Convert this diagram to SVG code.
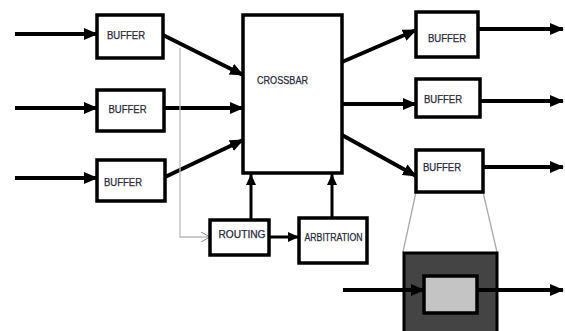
<svg xmlns="http://www.w3.org/2000/svg" width="565" height="331" viewBox="0 0 565 331">
<defs>
<marker id="ah" markerUnits="userSpaceOnUse" markerWidth="14" markerHeight="12" refX="13" refY="6" orient="auto">
<path d="M0,0 L14,6 L0,12 z" fill="#000"/>
</marker>
<marker id="ahg" markerUnits="userSpaceOnUse" markerWidth="10" markerHeight="10" refX="9" refY="5" orient="auto">
<path d="M0,0 L9,5 L0,10" fill="none" stroke="#888" stroke-width="1"/>
</marker>
<marker id="ahs" markerUnits="userSpaceOnUse" markerWidth="12" markerHeight="10" refX="11" refY="5" orient="auto">
<path d="M0,0 L11,5 L0,10 z" fill="#000"/>
</marker>
</defs>
<style>
.box{fill:#fff;stroke:#000;stroke-width:3.5}
.lbl{font-family:"Liberation Sans",Arial,sans-serif;font-size:10px;fill:#2a2a3a;text-anchor:middle;dominant-baseline:central;stroke:#2a2a3a;stroke-width:0.25}
.w{fill:none;stroke:#000;stroke-width:4;marker-end:url(#ah)}
.t{fill:none;stroke:#000;stroke-width:3;marker-end:url(#ahs)}
.g{fill:none;stroke:#aaa;stroke-width:1.3}
</style>
<rect width="565" height="331" fill="#fff"/>
<g id="connectors">
<path class="w" d="M15,34 L97,34"/>
<path class="w" d="M15,108 L97,108"/>
<path class="w" d="M15,178 L97,178"/>
<path class="w" d="M163,35 L243,75"/>
<path class="w" d="M164,108 L243,108"/>
<path class="w" d="M165,177 L243,140"/>
<path class="w" d="M342,62 L416,30"/>
<path class="w" d="M342,104 L416,104"/>
<path class="w" d="M342,135 L416,176"/>
<path class="w" d="M478,29 L563,29"/>
<path class="w" d="M480,101 L563,101"/>
<path class="w" d="M483,167 L563,167"/>
<path class="t" d="M251,220 L251,174"/>
<path class="t" d="M332,218 L332,174"/>
<path class="t" d="M269,237 L299,237"/>
<path d="M180,48 L180,237 L210,237" fill="none" stroke="#bbb" stroke-width="1.3" marker-end="url(#ahg)"/>
<path class="g" d="M416,192 L403,252"/>
<path class="g" d="M483,192 L497,252"/>
</g>
<g id="buffer-in-1"><rect class="box" x="97" y="15" width="66" height="43"/><text class="lbl" x="126" y="35" textLength="38" lengthAdjust="spacingAndGlyphs">BUFFER</text></g>
<g id="buffer-in-2"><rect class="box" x="97" y="90" width="67" height="41"/><text class="lbl" x="127.5" y="109" textLength="38" lengthAdjust="spacingAndGlyphs">BUFFER</text></g>
<g id="buffer-in-3"><rect class="box" x="97" y="160" width="68" height="41"/><text class="lbl" x="123" y="182" textLength="38" lengthAdjust="spacingAndGlyphs">BUFFER</text></g>
<g id="crossbar"><rect class="box" x="243" y="15" width="99" height="158"/><text class="lbl" x="282.5" y="80" textLength="51" lengthAdjust="spacingAndGlyphs">CROSSBAR</text></g>
<g id="routing"><rect class="box" x="210" y="220" width="59" height="35"/><text class="lbl" x="242" y="234" textLength="47" lengthAdjust="spacingAndGlyphs">ROUTING</text></g>
<g id="arbitration"><rect class="box" x="299" y="218" width="68" height="45"/><text class="lbl" x="333.5" y="237" textLength="58" lengthAdjust="spacingAndGlyphs">ARBITRATION</text></g>
<g id="buffer-out-1"><rect class="box" x="416" y="12" width="62" height="45"/><text class="lbl" x="447" y="38" textLength="38" lengthAdjust="spacingAndGlyphs">BUFFER</text></g>
<g id="buffer-out-2"><rect class="box" x="416" y="79" width="64" height="38"/><text class="lbl" x="443" y="99" textLength="38" lengthAdjust="spacingAndGlyphs">BUFFER</text></g>
<g id="buffer-out-3"><rect class="box" x="416" y="150" width="67" height="42"/><text class="lbl" x="442" y="167" textLength="38" lengthAdjust="spacingAndGlyphs">BUFFER</text></g>
<g id="zoom-detail">
<rect x="404" y="253" width="93" height="82" fill="#444" stroke="#000" stroke-width="3"/>
<rect x="424" y="276" width="53" height="37" fill="#c4c4c4" stroke="#000" stroke-width="3.5"/>
<path class="w" d="M343,290 L424,290"/>
<path class="w" d="M477,290 L563,290"/>
</g>
</svg>
